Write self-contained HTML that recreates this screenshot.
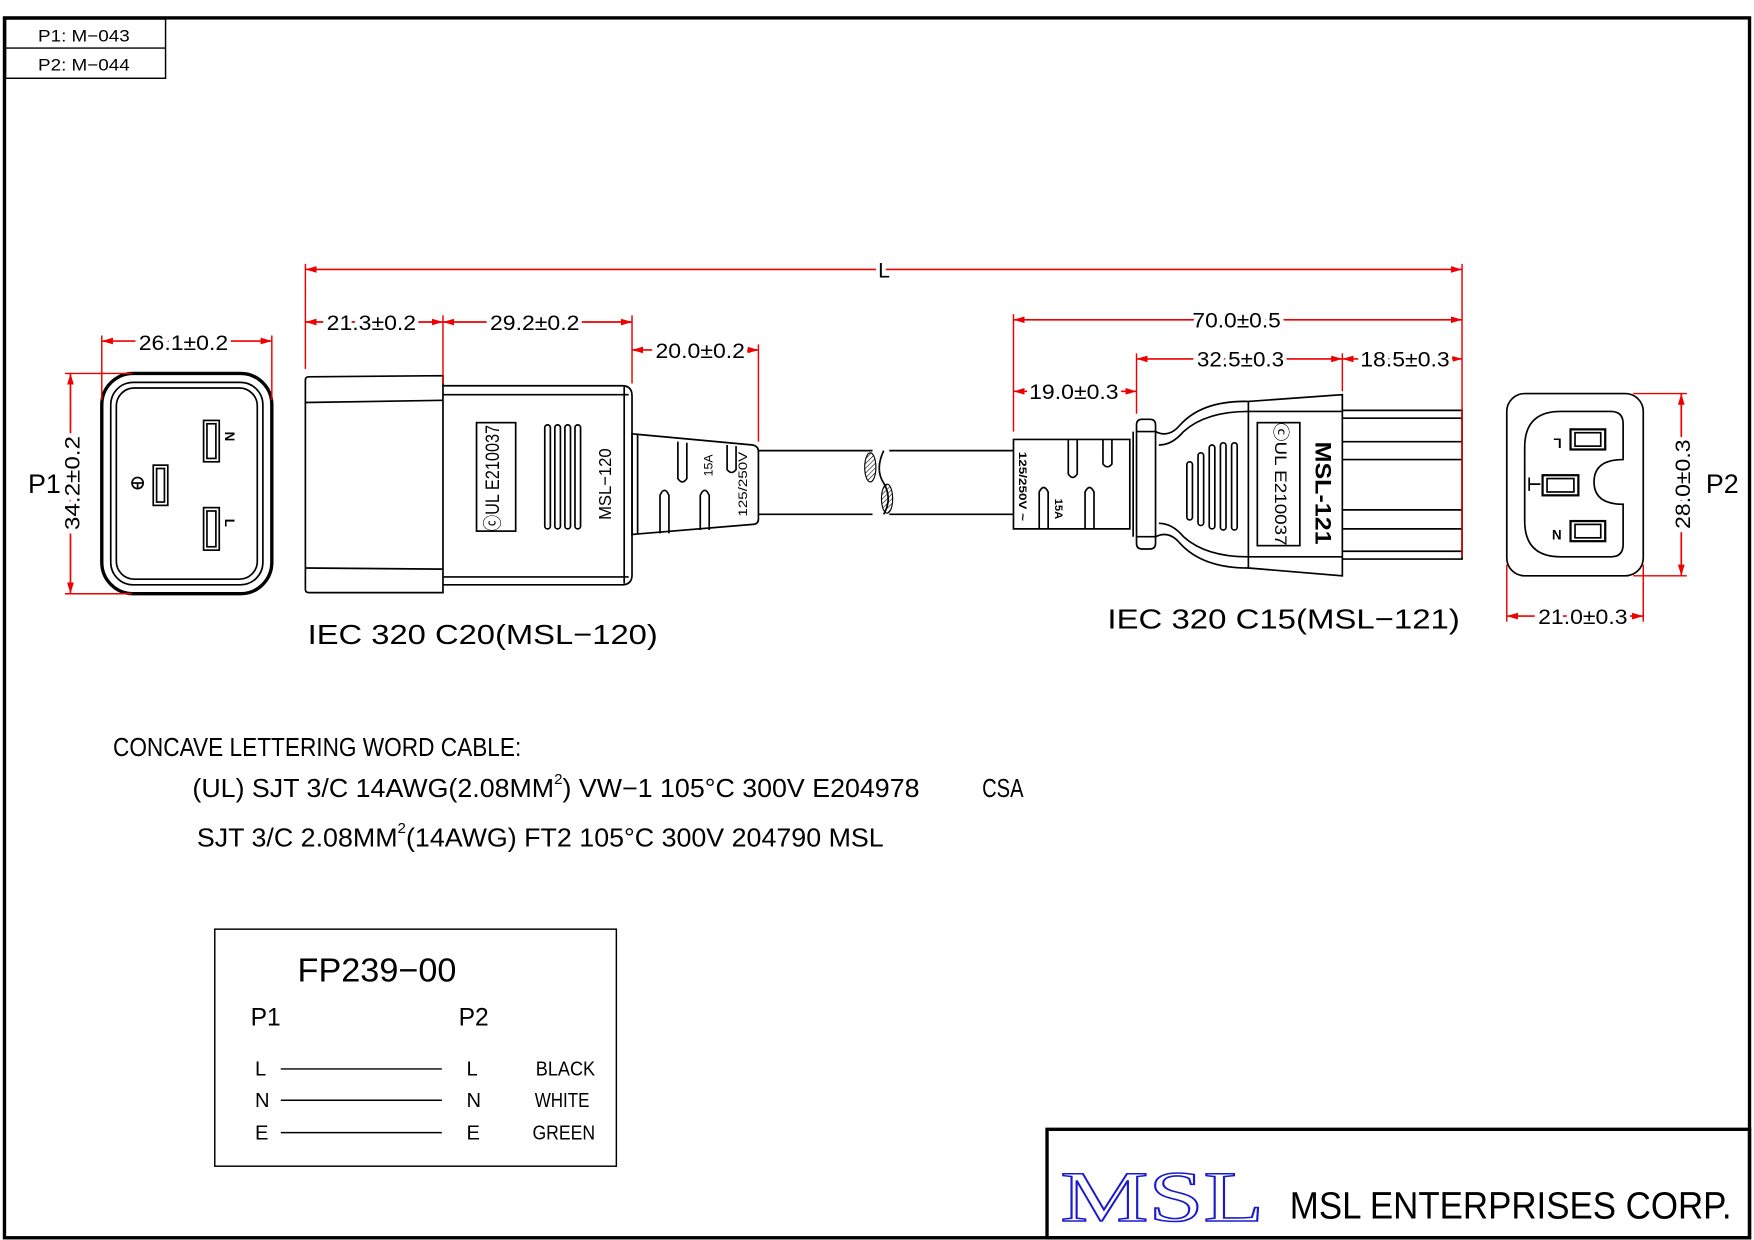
<!DOCTYPE html>
<html><head><meta charset="utf-8"><style>
html,body{margin:0;padding:0;background:#fff;}
svg{display:block;}
text{font-family:"Liberation Sans",sans-serif;fill:#000;}
.d{font-size:19px;fill:#000;stroke:#fff;stroke-width:7px;paint-order:stroke;}
</style></head><body>
<svg width="1754" height="1240" viewBox="0 0 1568 1109" preserveAspectRatio="none" xmlns="http://www.w3.org/2000/svg">
<defs>
<marker id="a" viewBox="0 0 10 6" refX="10" refY="3" markerWidth="10" markerHeight="6" markerUnits="userSpaceOnUse" orient="auto-start-reverse"><path d="M0,0L10,3L0,6z" fill="#e00"/></marker>
<pattern id="h" width="3" height="3" patternUnits="userSpaceOnUse" patternTransform="rotate(45)"><line x1="0" y1="0" x2="0" y2="3" stroke="#000" stroke-width="1"/></pattern>
</defs>
<rect x="0" y="0" width="1568" height="1109" fill="#fff"/>
<rect x="4" y="16" width="1560" height="1091" fill="none" stroke="#000" stroke-width="3"/>
<rect x="5" y="17" width="143" height="53" fill="none" stroke="#000" stroke-width="1.3"/>
<line x1="5" y1="43" x2="148" y2="43" stroke="#000" stroke-width="1.3"/>
<text x="34" y="37" font-size="15" textLength="82" lengthAdjust="spacingAndGlyphs">P1: M−043</text>
<text x="34" y="63" font-size="15" textLength="82" lengthAdjust="spacingAndGlyphs">P2: M−044</text>
<rect x="936" y="1010" width="628" height="97" fill="none" stroke="#000" stroke-width="3"/>
<text x="948" y="1092" font-size="64" textLength="182" lengthAdjust="spacingAndGlyphs" style="font-family:'Liberation Serif',serif;fill:#fff;stroke:#1a1acc;stroke-width:1.4px">MSL</text>
<text x="1153" y="1090" font-size="34" textLength="395" lengthAdjust="spacingAndGlyphs">MSL ENTERPRISES CORP.</text>

<g stroke="#000" stroke-width="1.5" fill="none">
<rect x="91" y="334" width="152" height="197" rx="28" stroke-width="3"/>
<rect x="99" y="342" width="136" height="181" rx="20"/>
<rect x="104" y="347" width="126" height="171" rx="16"/>
<rect x="182" y="376" width="14" height="37"/><rect x="185" y="379" width="8" height="31"/>
<rect x="137" y="416" width="13" height="36"/><rect x="140" y="419" width="7" height="30"/>
<rect x="182" y="454" width="14" height="38"/><rect x="185" y="457" width="8" height="32"/>
<circle cx="123" cy="432" r="5"/><line x1="118" y1="432" x2="128" y2="432"/><line x1="123" y1="432" x2="123" y2="437"/>
<path d="M276,337 L396,336 L396,530 L276,530 Q273,530 273,527 L273,340 Q273,337 276,337z"/>
<line x1="273" y1="360" x2="396" y2="358"/><line x1="273" y1="508" x2="396" y2="509"/>
<path d="M396,345 L556,345 Q565,345 565,354 L565,514 Q565,523 556,523 L396,523"/>
<line x1="396" y1="353" x2="562" y2="353"/><line x1="396" y1="516" x2="562" y2="516"/>
<line x1="558" y1="346" x2="558" y2="522"/>
<rect x="426" y="378" width="35" height="97"/>
<rect x="487" y="380" width="5" height="93" rx="2.5"/><rect x="496" y="380" width="5" height="93" rx="2.5"/><rect x="505" y="380" width="5" height="93" rx="2.5"/><rect x="514" y="380" width="5" height="93" rx="2.5"/>
<path d="M565,388 L673,398 Q678,399 678,404 L678,464 Q678,469 673,469 L565,478z"/>
<line x1="570" y1="389" x2="570" y2="477"/>
<path d="M606,395 L606,428 Q610,434 614,428 L614,396"/><path d="M650,398 L650,420 Q654,425 658,420 L658,399"/>
<path d="M590,477 L590,443 Q594,434 598,443 L598,477"/><path d="M626,474 L626,443 Q630,434 634,443 L634,474"/>
<path d="M678,403 L780,403 M678,460 L780,460"/>
<path d="M795,403 L906,403 M795,460 L906,460"/>
<path d="M790,403 Q782,420 790,432 Q798,446 790,460"/>
</g>
<ellipse cx="778" cy="418" rx="5" ry="13" fill="url(#h)" stroke="#000"/>
<ellipse cx="793" cy="446" rx="5" ry="13" fill="url(#h)" stroke="#000"/>
<text transform="translate(446,475) rotate(-90)" font-size="17" textLength="95" lengthAdjust="spacingAndGlyphs">ⓒUL E210037</text>
<text transform="translate(546,465) rotate(-90)" font-size="16" textLength="64" lengthAdjust="spacingAndGlyphs">MSL−120</text>
<text transform="translate(637,426) rotate(-90)" font-size="11">15A</text>
<text transform="translate(668,462) rotate(-90)" font-size="11" textLength="58" lengthAdjust="spacingAndGlyphs">125/250V</text>

<g stroke="#000" stroke-width="1.5" fill="none">
<path d="M906,393 L1010,393 L1010,473 L906,473 z"/>
<path d="M955,393 L955,424 Q959,430 963,424 L963,393"/><path d="M986,393 L986,415 Q990,420 994,415 L994,393"/>
<path d="M929,473 L929,440 Q933,432 937,440 L937,473"/><path d="M970,473 L970,440 Q974,432 978,440 L978,473"/>
<path d="M1016,380 Q1016,375 1021,375 L1028,375 Q1033,375 1033,380 L1033,486 Q1033,491 1028,491 L1021,491 Q1016,491 1016,486z"/>
<line x1="1013" y1="386" x2="1013" y2="480"/><line x1="1016" y1="386" x2="1033" y2="386"/><line x1="1016" y1="480" x2="1033" y2="480"/>
<path d="M1033,386 Q1045,392 1055,380 Q1075,358 1116,359 L1200,353 L1200,515 L1116,508 Q1075,508 1055,486 Q1045,474 1033,480"/>
<path d="M1036,398 Q1048,398 1058,386 Q1078,368 1116,368"/>
<path d="M1036,468 Q1048,468 1058,480 Q1078,498 1116,498"/>
<line x1="1116" y1="359" x2="1116" y2="508"/>
<line x1="1116" y1="368" x2="1200" y2="368"/><line x1="1116" y1="498" x2="1200" y2="498"/>
<rect x="1124" y="378" width="38" height="110"/>
<rect x="1061" y="413" width="5" height="52" rx="2.5"/><rect x="1071" y="405" width="5" height="65" rx="2.5"/><rect x="1081" y="398" width="5" height="75" rx="2.5"/><rect x="1091" y="396" width="5" height="78" rx="2.5"/><rect x="1101" y="396" width="5" height="78" rx="2.5"/>
<path d="M1200,367 L1307,367 L1307,500 L1200,500"/>
<line x1="1200" y1="374" x2="1307" y2="374"/><line x1="1200" y1="395" x2="1307" y2="395"/><line x1="1200" y1="411" x2="1307" y2="411"/>
<line x1="1200" y1="456" x2="1307" y2="456"/><line x1="1200" y1="473" x2="1307" y2="473"/><line x1="1200" y1="493" x2="1307" y2="493"/>
<rect x="1347" y="352" width="122" height="163" rx="16"/>
<path d="M1363,400 Q1363,368 1395,368 L1440,368 Q1451,368 1451,379 L1451,411 Q1425,411 1425,431 Q1425,451 1451,451 L1451,487 Q1451,498 1440,498 L1395,498 Q1363,498 1363,466z"/>
<rect x="1404" y="384" width="31" height="18" stroke-width="2"/><rect x="1408" y="387" width="23" height="12"/>
<rect x="1379" y="425" width="32" height="18" stroke-width="2"/><rect x="1383" y="428" width="24" height="12"/>
<rect x="1404" y="466" width="31" height="18" stroke-width="2"/><rect x="1408" y="469" width="23" height="12"/>
<path d="M1367,427 L1367,439 M1367,433 L1377,433"/>
</g>
<text transform="translate(911,404) rotate(90)" font-size="10" font-weight="bold" textLength="62" lengthAdjust="spacingAndGlyphs">125/250V ~</text>
<text transform="translate(943,446) rotate(90)" font-size="10" font-weight="bold">15A</text>
<text transform="translate(1140,378) rotate(90)" font-size="15" textLength="110" lengthAdjust="spacingAndGlyphs">ⓒUL E210037</text>
<text transform="translate(1176,395) rotate(90)" font-size="20" font-weight="bold" textLength="92" lengthAdjust="spacingAndGlyphs">MSL-121</text>
<text transform="translate(1396,392) rotate(180)" font-size="12" font-weight="bold">L</text>
<text transform="translate(1396,474) rotate(180)" font-size="12" font-weight="bold">N</text>
<text transform="translate(201,386) rotate(90)" font-size="12" font-weight="bold">N</text>
<text transform="translate(201,464) rotate(90)" font-size="12" font-weight="bold">L</text>

<g stroke="#e00" stroke-width="1.3" fill="none">
<line x1="91" y1="300" x2="91" y2="358"/><line x1="243" y1="300" x2="243" y2="358"/>
<line x1="58" y1="334" x2="118" y2="334"/><line x1="58" y1="531" x2="118" y2="531"/>
<line x1="273" y1="236" x2="273" y2="330"/><line x1="1307" y1="236" x2="1307" y2="498"/>
<line x1="396" y1="282" x2="396" y2="343"/><line x1="565" y1="282" x2="565" y2="343"/><line x1="678" y1="308" x2="678" y2="395"/>
<line x1="906" y1="281" x2="906" y2="386"/><line x1="1016" y1="316" x2="1016" y2="370"/><line x1="1200" y1="316" x2="1200" y2="350"/>
<line x1="1460" y1="352" x2="1508" y2="352"/><line x1="1460" y1="515" x2="1508" y2="515"/>
<line x1="1347" y1="505" x2="1347" y2="556"/><line x1="1469" y1="505" x2="1469" y2="556"/>
</g>
<g stroke="#e00" stroke-width="1.5" marker-start="url(#a)" marker-end="url(#a)">
<line x1="91" y1="305" x2="243" y2="305"/>
<line x1="63" y1="334" x2="63" y2="531"/>
<line x1="273" y1="241" x2="1307" y2="241"/>
<line x1="273" y1="288" x2="396" y2="288"/>
<line x1="396" y1="288" x2="565" y2="288"/>
<line x1="565" y1="313" x2="678" y2="313"/>
<line x1="906" y1="286" x2="1307" y2="286"/>
<line x1="1016" y1="321" x2="1200" y2="321"/>
<line x1="1200" y1="321" x2="1307" y2="321"/>
<line x1="906" y1="350" x2="1016" y2="350"/>
<line x1="1503" y1="352" x2="1503" y2="515"/>
<line x1="1347" y1="551" x2="1469" y2="551"/>
</g>
<text class="d" x="124" y="313" textLength="80" lengthAdjust="spacingAndGlyphs">26.1±0.2</text>
<text class="d" transform="translate(71,474) rotate(-90)" textLength="84" lengthAdjust="spacingAndGlyphs">34.2±0.2</text>
<text x="25" y="441" font-size="24">P1</text>
<text class="d" x="785" y="248">L</text>
<text class="d" x="292" y="295" textLength="80" lengthAdjust="spacingAndGlyphs">21.3±0.2</text>
<text class="d" x="438" y="295" textLength="80" lengthAdjust="spacingAndGlyphs">29.2±0.2</text>
<text class="d" x="586" y="320" textLength="80" lengthAdjust="spacingAndGlyphs">20.0±0.2</text>
<text class="d" x="1066" y="293" textLength="79" lengthAdjust="spacingAndGlyphs">70.0±0.5</text>
<text class="d" x="1070" y="328" textLength="78" lengthAdjust="spacingAndGlyphs">32.5±0.3</text>
<text class="d" x="1216" y="328" textLength="80" lengthAdjust="spacingAndGlyphs">18.5±0.3</text>
<text class="d" x="920" y="357" textLength="80" lengthAdjust="spacingAndGlyphs">19.0±0.3</text>
<text class="d" transform="translate(1511,473) rotate(-90)" textLength="80" lengthAdjust="spacingAndGlyphs">28.0±0.3</text>
<text x="1525" y="441" font-size="24">P2</text>
<text class="d" x="1375" y="558" textLength="80" lengthAdjust="spacingAndGlyphs">21.0±0.3</text>

<text x="275" y="576" font-size="25" textLength="313" lengthAdjust="spacingAndGlyphs">IEC  320  C20(MSL−120)</text>
<text x="990" y="562" font-size="25" textLength="315" lengthAdjust="spacingAndGlyphs">IEC  320  C15(MSL−121)</text>

<text x="101" y="676" font-size="23" textLength="365" lengthAdjust="spacingAndGlyphs">CONCAVE LETTERING WORD CABLE:</text>
<text x="172" y="713" font-size="23" textLength="650" lengthAdjust="spacingAndGlyphs">(UL) SJT 3/C 14AWG(2.08MM<tspan font-size="13" dy="-12">2</tspan><tspan dy="12">) VW−1 105°C 300V E204978</tspan></text>
<text x="878" y="713" font-size="23" textLength="37" lengthAdjust="spacingAndGlyphs">CSA</text>
<text x="176" y="757" font-size="23" textLength="614" lengthAdjust="spacingAndGlyphs">SJT 3/C 2.08MM<tspan font-size="13" dy="-12">2</tspan><tspan dy="12">(14AWG) FT2 105°C 300V 204790 MSL</tspan></text>

<rect x="192" y="831" width="359" height="212" fill="none" stroke="#000" stroke-width="1.3"/>
<text x="266" y="878" font-size="30" textLength="142" lengthAdjust="spacingAndGlyphs">FP239−00</text>
<text x="224" y="917" font-size="22">P1</text>
<text x="410" y="917" font-size="22">P2</text>
<g font-size="18">
<text x="228" y="962">L</text><text x="228" y="990">N</text><text x="228" y="1019">E</text>
<text x="417" y="962">L</text><text x="417" y="990">N</text><text x="417" y="1019">E</text>
<text x="479" y="962" textLength="53" lengthAdjust="spacingAndGlyphs">BLACK</text>
<text x="478" y="990" textLength="49" lengthAdjust="spacingAndGlyphs">WHITE</text>
<text x="476" y="1019" textLength="56" lengthAdjust="spacingAndGlyphs">GREEN</text>
</g>
<g stroke="#000" stroke-width="1.3">
<line x1="251" y1="956" x2="395" y2="956"/><line x1="251" y1="984" x2="395" y2="984"/><line x1="251" y1="1013" x2="395" y2="1013"/>
</g>
</svg>
</body></html>
